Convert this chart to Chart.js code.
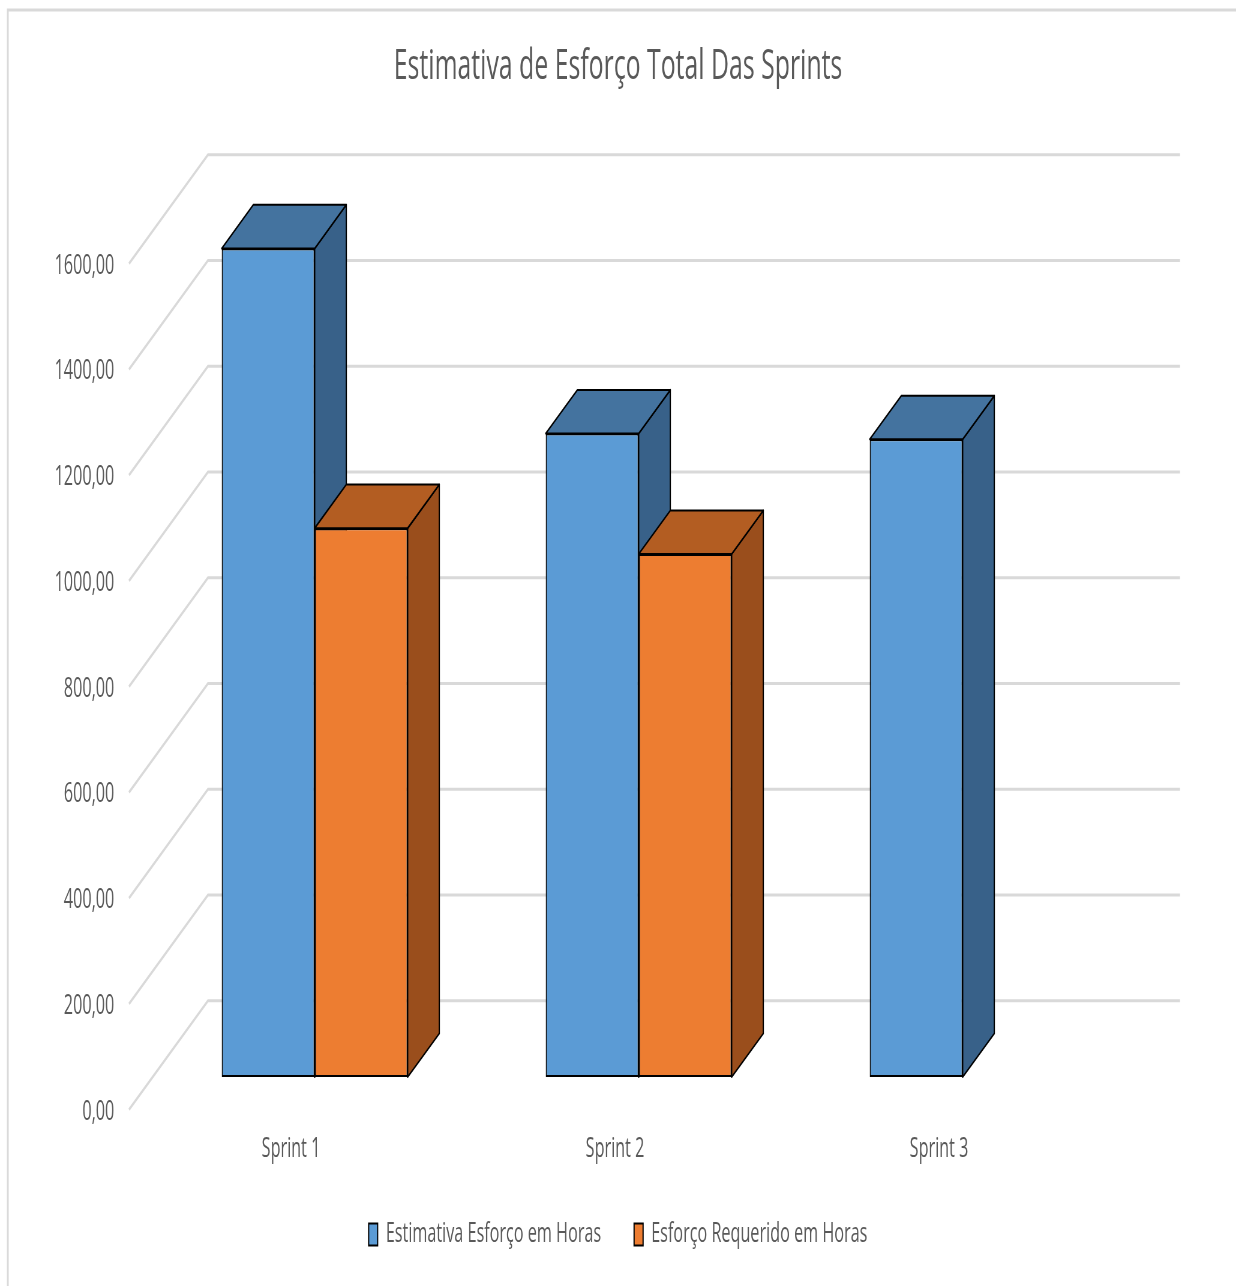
<!DOCTYPE html>
<html>
<head>
<meta charset="utf-8">
<script src="https://cdn.jsdelivr.net/npm/chart.js@4.4.1/dist/chart.umd.min.js"></script>
<style>
  html, body { margin: 0; padding: 0; background: #fff; overflow: hidden; }
  /* chart is laid out wide and squeezed horizontally to get the narrow type */
  #wrap { width: 2060px; height: 1286px; transform: scaleX(0.6); transform-origin: 0 0; }
  canvas { display: block; }
</style>
</head>
<body>
<div id="wrap"><canvas id="esforco-chart" width="2060" height="1286"></canvas></div>
<script>
const sprints = ["Sprint 1", "Sprint 2", "Sprint 3"];
const estimativaHoras = [1567, 1217, 1206];
const requeridoHoras = [1038, 989, null];
const yTicks = [0, 200, 400, 600, 800, 1000, 1200, 1400, 1600];

// depth of the 3D box (wall) and where the bars sit inside it
const WALL = { dx: 131.7, dy: -109 };
const FRONT_GAP = 0.3;
const BAR_DEPTH = 0.4;
const GRID_COLOR = "#d9d9d9";
const TEXT_COLOR = "#595959";

function poly(ctx, pts, fill) {
    ctx.beginPath();
    ctx.moveTo(pts[0][0], pts[0][1]);
    for (let i = 1; i < pts.length; i++) ctx.lineTo(pts[i][0], pts[i][1]);
    ctx.closePath();
    ctx.fillStyle = fill;
    ctx.fill();
    ctx.stroke();
}

const box3d = {
    id: "box3d",
    beforeDraw(chart) {
        const ctx = chart.ctx;
        ctx.save();
        ctx.strokeStyle = GRID_COLOR;
        ctx.lineWidth = 3;
        ctx.strokeRect(13, 10, chart.width + 20, chart.height + 20);
        ctx.restore();
    },
    beforeDatasetsDraw(chart) {
        const { ctx, chartArea } = chart;
        const yScale = chart.scales.y;

        // back wall gridlines with their diagonal run to the front edge
        ctx.save();
        ctx.strokeStyle = GRID_COLOR;
        ctx.lineWidth = 3;
        const bx = WALL.dx * (1 - FRONT_GAP), by = WALL.dy * (1 - FRONT_GAP);
        const fx = -WALL.dx * FRONT_GAP, fy = -WALL.dy * FRONT_GAP;
        yScale.ticks.forEach(t => {
            const py = yScale.getPixelForValue(t.value);
            ctx.beginPath();
            ctx.moveTo(chartArea.left + fx, py + fy);
            ctx.lineTo(chartArea.left + bx, py + by);
            ctx.lineTo(chartArea.right + bx, py + by);
            ctx.stroke();
        });
        ctx.restore();

        // side and top faces of each bar, front faces come from Chart.js
        ctx.save();
        ctx.strokeStyle = "#000";
        ctx.lineWidth = 2;
        ctx.lineJoin = "round";
        const dx = WALL.dx * BAR_DEPTH, dy = WALL.dy * BAR_DEPTH;
        chart.data.datasets.forEach((ds, di) => {
            const meta = chart.getDatasetMeta(di);
            meta.data.forEach((bar, i) => {
                if (ds.data[i] == null) return;
                const { x, y, base, width } = bar.getProps(["x", "y", "base", "width"], true);
                const l = x - width / 2, r = x + width / 2;
                poly(ctx, [[r, y], [r + dx, y + dy], [r + dx, base + dy], [r, base]], ds.sideColor);
                poly(ctx, [[l, y], [l + dx, y + dy], [r + dx, y + dy], [r, y]], ds.topColor);
            });
        });
        ctx.restore();
    }
};

Chart.defaults.font.family = "'Open Sans', sans-serif";
Chart.defaults.color = TEXT_COLOR;

const ctx = document.getElementById("esforco-chart").getContext("2d");

const data = {
    labels: sprints,
    datasets: [
        {
            label: "Estimativa Esforço em Horas",
            data: estimativaHoras,
            backgroundColor: "#5b9bd5",
            topColor: "#44739f",
            sideColor: "#386189",
            borderColor: "#000",
            borderWidth: 2,
            borderSkipped: false
        },
        {
            label: "Esforço Requerido em Horas",
            data: requeridoHoras,
            backgroundColor: "#ed7d31",
            topColor: "#b35d22",
            sideColor: "#9a4e1c",
            borderColor: "#000",
            borderWidth: 2,
            borderSkipped: false
        }
    ]
};

const options = {
    responsive: false,
    devicePixelRatio: 1,
    animation: false,
    layout: { padding: { top: 0, left: 0, right: 0, bottom: 28 } },
    datasets: { bar: { categoryPercentage: 0.574, barPercentage: 1.0 } },
    scales: {
        x: {
            afterFit: s => { s.height = 89; },
            grid: { display: false },
            border: { display: false },
            ticks: { font: { size: 27 }, padding: 48, labelOffset: -39.5 }
        },
        y: {
            min: 0,
            max: 1600,
            afterBuildTicks: s => { s.ticks = yTicks.map(v => ({ value: v })); },
            afterFit: s => { s.width = 254.5; },
            grid: { display: false },
            border: { display: false },
            ticks: {
                font: { size: 27 },
                padding: 56,
                labelOffset: 35,
                callback: v => v.toFixed(2).replace(".", ",")
            }
        },
        // empty strip on the right that leaves room for the depth of the box
        depth: {
            position: "right",
            afterFit: s => { s.width = 185.5; },
            grid: { display: false },
            border: { display: false },
            ticks: { display: false }
        }
    },
    plugins: {
        title: {
            display: true,
            text: "Estimativa de Esforço Total Das Sprints",
            font: { size: 41.4, weight: "normal" },
            color: TEXT_COLOR,
            padding: { top: 42, bottom: 139.3 }
        },
        legend: {
            position: "bottom",
            labels: { boxWidth: 15, boxHeight: 22, padding: 55, font: { size: 27 }, color: TEXT_COLOR }
        },
        tooltip: { enabled: false }
    }
};

const esforcoChart = new Chart(ctx, {
    type: "bar",
    data: data,
    options: options,
    plugins: [box3d]
});
</script>
</body>
</html>
